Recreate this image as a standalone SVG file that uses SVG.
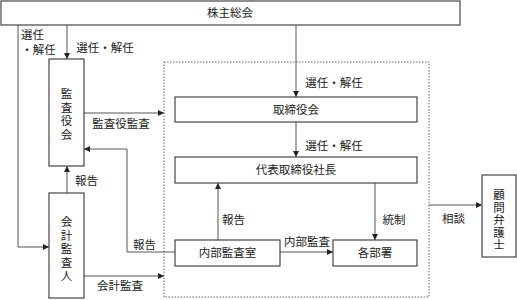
<svg xmlns="http://www.w3.org/2000/svg" width="517" height="300" viewBox="0 0 517 300">
<defs>
<marker id="ah" markerWidth="6" markerHeight="6" refX="6" refY="3" orient="auto" markerUnits="userSpaceOnUse">
<path d="M0,0 L6,3 L0,6 z" fill="#222"/>
</marker>
<style>
.box{fill:#fff;stroke:#444;stroke-width:1.2}
.ln{fill:none;stroke:#555;stroke-width:1;marker-end:url(#ah)}
.t{font-family:"Liberation Serif","Noto Sans CJK JP",serif;font-size:11.5px;fill:#222;text-anchor:middle;dominant-baseline:central}
.dot{fill:none;stroke:#666;stroke-width:1;stroke-dasharray:1.5 1.5}
</style>
</defs>
<rect width="517" height="300" fill="#fff"/>
<rect class="dot" x="164" y="62" width="265" height="235"/>

<g id="connectors">
<polyline class="ln" points="18,25 18,247 49,247"/>
<line class="ln" x1="67" y1="25" x2="67" y2="59"/>
<line class="ln" x1="84" y1="113" x2="164" y2="113"/>
<polyline class="ln" points="175,252 127,252 127,149 84,149"/>
<line class="ln" x1="67" y1="193" x2="67" y2="166"/>
<line class="ln" x1="84" y1="276" x2="164" y2="276"/>
<line class="ln" x1="296" y1="25" x2="296" y2="97"/>
<line class="ln" x1="296" y1="122" x2="296" y2="157"/>
<line class="ln" x1="218" y1="240" x2="218" y2="183"/>
<line class="ln" x1="375" y1="183" x2="375" y2="240"/>
<line class="ln" x1="280" y1="252" x2="333" y2="252"/>
<line class="ln" x1="429" y1="205" x2="482" y2="205"/>
<text class="t" x="32.5" y="35">選任</text>
<text class="t" x="38.5" y="50">・解任</text>
<text class="t" x="105" y="48">選任・解任</text>
<text class="t" x="86.5" y="181">報告</text>
<text class="t" x="121" y="124">監査役監査</text>
<text class="t" x="144.5" y="245">報告</text>
<text class="t" x="120" y="286">会計監査</text>
<text class="t" x="334" y="83">選任・解任</text>
<text class="t" x="334" y="146">選任・解任</text>
<text class="t" x="233.5" y="220">報告</text>
<text class="t" x="394" y="220">統制</text>
<text class="t" x="307" y="242">内部監査</text>
<text class="t" x="453.5" y="219">相談</text>
</g>

<g id="kabunushi">
<rect class="box" x="1" y="1" width="459" height="24"/>
<text class="t" x="230" y="13">株主総会</text>
</g>

<g id="kansayakukai">
<rect class="box" x="49" y="59" width="35" height="107"/>
<text class="t" x="66.5" y="94">監</text>
<text class="t" x="66.5" y="107.5">査</text>
<text class="t" x="66.5" y="121">役</text>
<text class="t" x="66.5" y="134.5">会</text>
</g>

<g id="kaikeikansanin">
<rect class="box" x="49" y="193" width="35" height="105"/>
<text class="t" x="66.5" y="222">会</text>
<text class="t" x="66.5" y="235.5">計</text>
<text class="t" x="66.5" y="249">監</text>
<text class="t" x="66.5" y="262.5">査</text>
<text class="t" x="66.5" y="276">人</text>
</g>

<g id="torishimariyakukai">
<rect class="box" x="175" y="97" width="242" height="25"/>
<text class="t" x="296" y="110">取締役会</text>
</g>

<g id="daihyo">
<rect class="box" x="175" y="157" width="242" height="26"/>
<text class="t" x="296" y="170">代表取締役社長</text>
</g>

<g id="naibukansashitsu">
<rect class="box" x="175" y="240" width="105" height="26"/>
<text class="t" x="227.5" y="253">内部監査室</text>
</g>

<g id="kakubusho">
<rect class="box" x="333" y="240" width="84" height="26"/>
<text class="t" x="375" y="253">各部署</text>
</g>

<g id="komonbengoshi">
<rect class="box" x="482" y="175" width="34" height="82"/>
<text class="t" x="499" y="195">顧</text>
<text class="t" x="499" y="207.5">問</text>
<text class="t" x="499" y="220">弁</text>
<text class="t" x="499" y="232.5">護</text>
<text class="t" x="499" y="245">士</text>
</g>
</svg>
